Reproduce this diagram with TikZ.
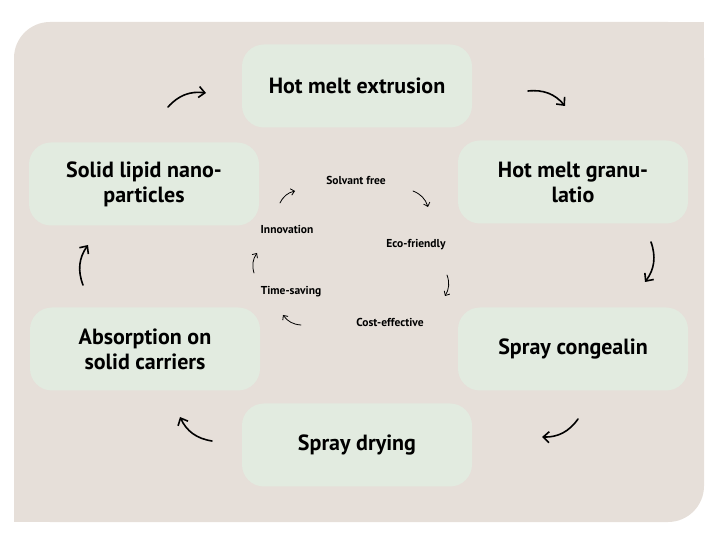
\documentclass[tikz,border=0pt]{standalone}
\usepackage{fontspec}
\setmainfont{PT Sans}
\usetikzlibrary{arrows.meta}

\definecolor{sand}{RGB}{230,223,217}
\definecolor{mint}{RGB}{226,235,224}

\tikzset{
  stage/.style={fill=mint, rounded corners=22pt, minimum width=230pt,
    minimum height=83pt, align=center, inner sep=0pt,
    font=\fontsize{22}{25}\selectfont\bfseries},
  perk/.style={inner sep=1pt, font=\fontsize{11.5}{13}\selectfont\bfseries},
  bigarrow/.style={-{Straight Barb[length=6pt,width=11pt]}, line width=1.6pt,
    line cap=round, bend left=28},
  smallarrow/.style={-{Straight Barb[length=3.5pt,width=6.5pt]}, line width=0.8pt,
    line cap=round, bend left=25},
}

\begin{document}
\begin{tikzpicture}[x=1pt,y=-1pt]
  \useasboundingbox (0,0) rectangle (726,534);

  % background
  \fill[sand, rounded corners=36pt] (14,22) rectangle (704,522);
  \fill[sand] (660,22) rectangle (704,70);
  \fill[sand] (14,470) rectangle (60,522);

  % stages
  \node[stage] (extrusion)   at (357,86)  {Hot melt extrusion};
  \node[stage] (granulation) at (573,182) {Hot melt granu-\\latio};
  \node[stage] (congealing)  at (573,349) {Spray congealin};
  \node[stage] (drying)      at (357,445) {Spray drying};
  \node[stage] (absorption)  at (145,349) {Absorption on\\solid carriers};
  \node[stage] (lipid)       at (144,184) {Solid lipid nano-\\particles};

  % advantages
  \node[perk] (solvent)    at (356,180) {Solvant free};
  \node[perk] (eco)        at (416,245) {Eco-friendly};
  \node[perk] (cost)       at (390,322) {Cost-effective};
  \node[perk] (time)       at (291,292) {Time-saving};
  \node[perk] (innovation) at (287,229) {Innovation};

  % arrow ends, outer cycle
  \coordinate (o1s) at (168,107); \coordinate (o1e) at (206,93);
  \coordinate (o2s) at (528,91);  \coordinate (o2e) at (565,106);
  \coordinate (o3s) at (651,242); \coordinate (o3e) at (645,282);
  \coordinate (o4s) at (578,419); \coordinate (o4e) at (542,437);
  \coordinate (o5s) at (212,441); \coordinate (o5e) at (180,417);
  \coordinate (o6s) at (83,285);  \coordinate (o6e) at (88,245);

  % arrow ends, inner cycle
  \coordinate (i1s) at (280,203); \coordinate (i1e) at (295,191);
  \coordinate (i2s) at (413,191); \coordinate (i2e) at (428,207);
  \coordinate (i3s) at (447,275); \coordinate (i3e) at (445,296);
  \coordinate (i4s) at (301,325); \coordinate (i4e) at (283,315);
  \coordinate (i5s) at (254,273); \coordinate (i5e) at (257,253);

  % arrows
  \foreach \n in {1,...,6}
    \draw[bigarrow] (o\n s) to (o\n e);
  \foreach \n in {1,...,5}
    \draw[smallarrow] (i\n s) to (i\n e);

\end{tikzpicture}
\end{document}
